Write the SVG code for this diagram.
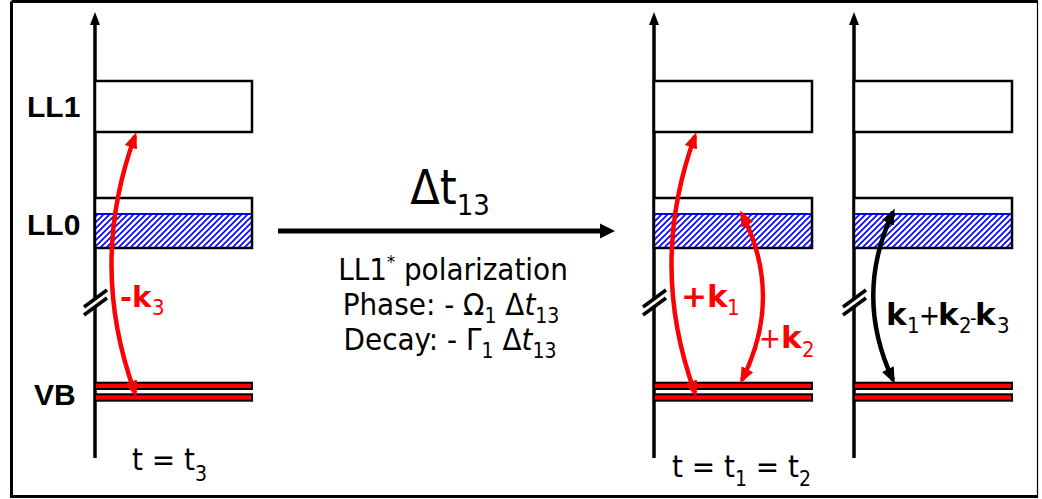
<svg xmlns="http://www.w3.org/2000/svg" width="1042" height="499" viewBox="0 0 1042 499">
<style>
.ax{stroke:#000;stroke-width:3.5;fill:none}
.box{fill:#fff;stroke:#000;stroke-width:2.5}
.bar{fill:#ff0000;stroke:#000;stroke-width:2}
.hl{stroke:#0000ff;stroke-width:2}
.brk{stroke:#000;stroke-width:3.5}
.lbl{font-family:"Liberation Sans",Arial,sans-serif;font-weight:bold;font-size:30px;fill:#000}
.tx{font-family:"DejaVu Sans Condensed","DejaVu Sans",sans-serif;font-stretch:condensed;fill:#000}
.kb{font-family:"DejaVu Sans","DejaVu Sans Condensed",sans-serif;font-weight:bold;font-stretch:normal}
.red{fill:#ff0000}
.rc{fill:none;stroke:#ff0000;stroke-width:4.5}
.bc{fill:none;stroke:#000;stroke-width:4.5}
</style>
<defs>
<pattern id="hatch" patternUnits="userSpaceOnUse" width="6" height="6">
<path d="M-1,1 L1,-1 M0,6 L6,0 M5,7 L7,5" stroke="#0000ff" stroke-width="1.6"/>
</pattern>
<marker id="ar" markerUnits="userSpaceOnUse" markerWidth="18" markerHeight="14" refX="12" refY="7" orient="auto-start-reverse" viewBox="0 0 18 14">
<path d="M0,0.5 L16,7 L0,13.5 z" fill="#ff0000"/>
</marker>
<marker id="ab" markerUnits="userSpaceOnUse" markerWidth="18" markerHeight="14" refX="12" refY="7" orient="auto-start-reverse" viewBox="0 0 18 14">
<path d="M0,0.5 L16,7 L0,13.5 z" fill="#000"/>
</marker>
</defs>
<rect width="1042" height="499" fill="#fff"/>
<g id="frame">
<path d="M11.5,1.5 H1038 M11.5,1.5 V496.5 H1038" stroke="#000" stroke-width="3" fill="none"/>
<path d="M1037.5,1.5 V496.5" stroke="#000" stroke-width="1.2" fill="none"/>
</g>

<g id="panel-t3">
<line class="ax" x1="95" y1="22" x2="95" y2="458"/>
<polygon points="95,12 90,25 100,25" fill="#000"/>
<rect class="box" x="95" y="81" width="157" height="51"/>
<rect class="box" x="95" y="198" width="157" height="50"/>
<rect x="96" y="214" width="155" height="33" fill="url(#hatch)"/>
<line class="hl" x1="96" y1="214" x2="251" y2="214"/>
<rect class="bar" x="95" y="382.7" width="157" height="6.3"/>
<rect class="bar" x="95" y="394.3" width="157" height="6.4"/>
<polygon points="85,307 107,291 107,298 85,314" fill="#fff"/>
<line class="brk" x1="84" y1="307" x2="107" y2="290"/>
<line class="brk" x1="84" y1="315" x2="107" y2="298"/>
<text class="lbl" x="27" y="117">LL1</text>
<text class="lbl" x="27" y="235">LL0</text>
<text class="lbl" x="34" y="405">VB</text>
<text class="tx" x="132" y="470" font-size="31">t = t<tspan font-size="21" dy="11">3</tspan></text>
</g>

<g id="transition">
<line x1="278" y1="231" x2="603" y2="231" stroke="#000" stroke-width="5"/>
<polygon points="600,223.5 615,231 600,238.5" fill="#000"/>
<text class="tx" x="450" y="204" font-size="48" text-anchor="middle">Δt<tspan font-size="29" dy="11">13</tspan></text>
<text class="tx" x="453" y="280" font-size="31" text-anchor="middle">LL1<tspan font-size="18" dy="-12">*</tspan><tspan dy="12"> polarization</tspan></text>
<text class="tx" x="451" y="315" font-size="31" text-anchor="middle">Phase: - Ω<tspan font-size="21" dy="8">1</tspan><tspan dy="-8"> Δ</tspan><tspan font-style="italic">t</tspan><tspan font-size="21" dy="8">13</tspan></text>
<text class="tx" x="450" y="350" font-size="31" text-anchor="middle">Decay: - Γ<tspan font-size="21" dy="8">1</tspan><tspan dy="-8"> Δ</tspan><tspan font-style="italic">t</tspan><tspan font-size="21" dy="8">13</tspan></text>
</g>

<g id="panel-t1t2">
<line class="ax" x1="654" y1="22" x2="654" y2="458"/>
<polygon points="654,12 649,25 659,25" fill="#000"/>
<rect class="box" x="654" y="81" width="158" height="51"/>
<rect class="box" x="654" y="198" width="158" height="50"/>
<rect x="655" y="214" width="156" height="33" fill="url(#hatch)"/>
<line class="hl" x1="655" y1="214" x2="811" y2="214"/>
<rect class="bar" x="654" y="382.7" width="158" height="6.3"/>
<rect class="bar" x="654" y="394.3" width="158" height="6.4"/>
<polygon points="644,307 666,291 666,298 644,314" fill="#fff"/>
<line class="brk" x1="643" y1="307" x2="666" y2="290"/>
<line class="brk" x1="643" y1="315" x2="666" y2="298"/>
<text class="tx" x="672" y="477" font-size="31">t = t<tspan font-size="21" dy="9">1</tspan><tspan dy="-9"> = t</tspan><tspan font-size="21" dy="9">2</tspan></text>
</g>

<g id="panel-signal">
<line class="ax" x1="854" y1="22" x2="854" y2="458"/>
<polygon points="854,12 849,25 859,25" fill="#000"/>
<rect class="box" x="854" y="81" width="158" height="51"/>
<rect class="box" x="854" y="198" width="158" height="50"/>
<rect x="855" y="214" width="156" height="33" fill="url(#hatch)"/>
<line class="hl" x1="855" y1="214" x2="1011" y2="214"/>
<rect class="bar" x="854" y="382.7" width="158" height="6.3"/>
<rect class="bar" x="854" y="394.3" width="158" height="6.4"/>
<polygon points="844,307 866,291 866,298 844,314" fill="#fff"/>
<line class="brk" x1="843" y1="307" x2="866" y2="290"/>
<line class="brk" x1="843" y1="315" x2="866" y2="298"/>
</g>

<g id="connectors">
<path class="rc" d="M135,393 Q88,264.5 135,136" marker-start="url(#ar)" marker-end="url(#ar)"/>
<path class="rc" d="M695,393 Q648,264.5 695,136" marker-start="url(#ar)" marker-end="url(#ar)"/>
<path class="rc" d="M742,380 Q784,296.5 742,214" marker-start="url(#ar)" marker-end="url(#ar)"/>
<path class="bc" d="M893,380 Q853.5,296 893,212" marker-start="url(#ab)" marker-end="url(#ab)"/>
</g>

<g id="labels">
<text class="tx red" font-size="29"><tspan class="kb" x="120" y="307">-</tspan><tspan class="kb" x="132" y="307">k</tspan><tspan x="152" y="315" font-size="22">3</tspan></text>
<text class="tx red" font-size="31"><tspan class="kb" x="681" y="307">+</tspan><tspan class="kb" x="707" y="307">k</tspan><tspan x="727" y="315" font-size="22">1</tspan></text>
<text class="tx red" font-size="29"><tspan x="759" y="348">+</tspan><tspan class="kb" x="781" y="348" font-size="31">k</tspan><tspan x="802" y="357" font-size="22">2</tspan></text>
<text class="tx" font-size="28"><tspan class="kb" x="886" y="325" font-size="31">k</tspan><tspan x="907" y="333" font-size="22">1</tspan><tspan x="919" y="325">+</tspan><tspan class="kb" x="938" y="325" font-size="31">k</tspan><tspan x="959" y="333" font-size="22">2</tspan><tspan x="970" y="325" font-size="20">-</tspan><tspan class="kb" x="975" y="325" font-size="31">k</tspan><tspan x="997" y="333" font-size="22">3</tspan></text>
</g>
</svg>
